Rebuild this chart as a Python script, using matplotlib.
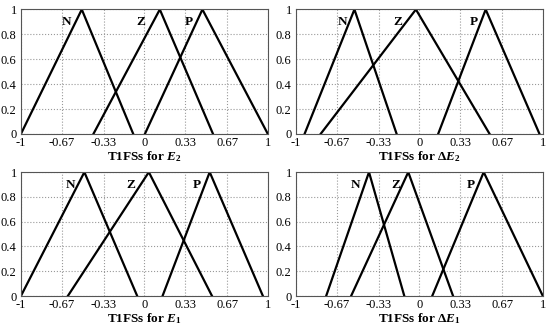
import numpy as np
import matplotlib.pyplot as plt

plt.rcParams['font.family'] = ['Liberation Serif', 'DejaVu Serif']
plt.rcParams['mathtext.fontset'] = 'custom'
plt.rcParams['mathtext.rm'] = 'Liberation Serif:bold'
plt.rcParams['mathtext.it'] = 'Liberation Serif:bold:italic'
plt.rcParams['mathtext.bf'] = 'Liberation Serif:bold'

xticks = [-1, -0.67, -0.33, 0, 0.33, 0.67, 1]
xticklabels = ['-1', '-0.67', '-0.33', '0', '0.33', '0.67', '1']
yticks = [0, 0.2, 0.4, 0.6, 0.8, 1]
yticklabels = ['0', '0.2', '0.4', '0.6', '0.8', '1']
names = ['N', 'Z', 'P']

# (left, peak, right) for N, Z, P in each panel
mf_e2 = [(-1.0, -0.507, -0.09), (-0.413, 0.125, 0.556), (0.004, 0.47, 1.0)]
mf_de2 = [(-0.93, -0.526, -0.184), (-0.80, -0.028, 0.569), (0.152, 0.537, 0.973)]
mf_e1 = [(-1.0, -0.486, -0.058), (-0.62, 0.036, 0.548), (0.147, 0.529, 0.96)]
mf_de1 = [(-0.755, -0.408, -0.122), (-0.553, -0.09, 0.273), (0.104, 0.521, 1.0)]

lab_e2 = [-0.63, -0.03, 0.36]
lab_de2 = [-0.62, -0.176, 0.443]
lab_e1 = [-0.596, -0.109, 0.421]
lab_de1 = [-0.52, -0.19, 0.42]

panels = [
    (mf_e2, lab_e2, r'T1FSs for $E_2$', [0.038, 0.589, 0.449, 0.382]),
    (mf_de2, lab_de2, r'T1FSs for $\Delta E_2$', [0.538, 0.589, 0.449, 0.382]),
    (mf_e1, lab_e1, r'T1FSs for $E_1$', [0.038, 0.092, 0.449, 0.380]),
    (mf_de1, lab_de1, r'T1FSs for $\Delta E_1$', [0.538, 0.092, 0.449, 0.380]),
]

fig = plt.figure(figsize=(5.5, 3.26), dpi=100)
for mfs, labx, xlabel, rect in panels:
    ax = fig.add_axes(rect)
    for (a, b, c), nm, lx in zip(mfs, names, labx):
        ax.plot([a, b, c], [0, 1, 0], color='black', lw=1.6, solid_joinstyle='miter')
        ax.text(lx, 0.9, nm, fontsize=9.5, fontweight='bold', ha='center', va='center')
    ax.set_xlim(-1, 1)
    ax.set_ylim(0, 1)
    ax.set_xticks(xticks)
    ax.set_xticklabels(xticklabels)
    ax.set_yticks(yticks)
    ax.set_yticklabels(yticklabels)
    ax.tick_params(length=0, labelsize=9)
    ax.tick_params(axis='x', pad=2.5)
    ax.tick_params(axis='y', pad=3)
    ax.grid(True, color='#999999', linestyle=':', linewidth=0.8)
    for s in ax.spines.values():
        s.set_color('#555555')
        s.set_linewidth(0.8)
    ax.set_xlabel(xlabel, fontsize=9.5, fontweight='bold', labelpad=-0.5)

fig.savefig('out.png', dpi=100)
